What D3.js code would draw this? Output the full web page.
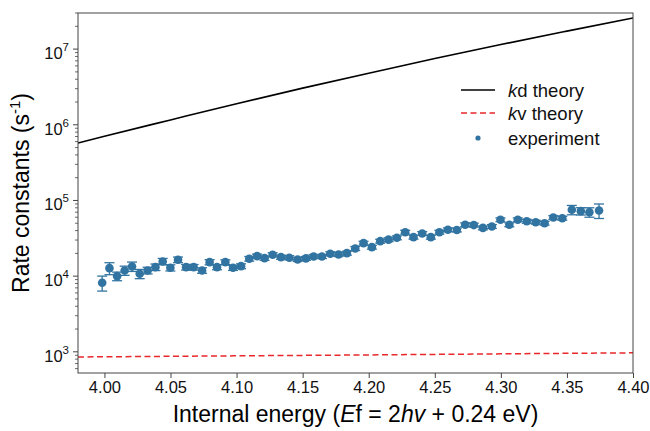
<!DOCTYPE html>
<html>
<head>
<meta charset="utf-8">
<script src="https://cdn.jsdelivr.net/npm/d3@7"></script>
<style>
  body { margin: 0; background: #fff; }
  svg { display: block; font-family: "Liberation Sans", Arial, Helvetica, sans-serif; }
</style>
</head>
<body>
<svg id="chart" width="650" height="431"></svg>
<script>
// Theoretical dissociation rate kd (s^-1) versus internal energy (eV)
const kdEnergy = [3.98, 4.00, 4.05, 4.10, 4.15, 4.20, 4.25, 4.30, 4.35, 4.40];
const kdRate   = [5.73e5, 7.05e5, 1.16e6, 1.90e6, 3.05e6, 4.81e6, 7.50e6, 1.15e7, 1.73e7, 2.58e7];

// Theoretical radiative rate kv (s^-1)
const kvEnergy = [3.98, 4.10, 4.20, 4.30, 4.40];
const kvRate   = [855, 885, 910, 940, 970];

// Measured rate constants with their uncertainties
const expEnergy = [
  3.9983, 4.0038, 4.0096, 4.0153, 4.0209, 4.0267, 4.0327, 4.0386, 4.0441, 4.0499,
  4.0557, 4.0618, 4.0675, 4.0739, 4.0796, 4.0852, 4.0915, 4.0973, 4.1034, 4.1096,
  4.1155, 4.1212, 4.1273, 4.1336, 4.1399, 4.1462, 4.1525, 4.1583, 4.1646, 4.1709,
  4.1772, 4.1835, 4.1898, 4.1961, 4.2024, 4.2087, 4.2150, 4.2213, 4.2276, 4.2339,
  4.2405, 4.2470, 4.2535, 4.2599, 4.2667, 4.2730, 4.2795, 4.2864, 4.2932, 4.2997,
  4.3064, 4.3128, 4.3196, 4.3264, 4.3331, 4.3397, 4.3465, 4.3537, 4.3605, 4.3670,
  4.3743
];
const expRate = [
  8180, 12750, 10000, 11900, 13440, 10760, 11900, 13150, 15630, 12910,
  16480, 13150, 13150, 11900, 15310, 13150, 15310, 12910, 13550, 16980,
  18370, 17290, 19180, 17820, 17500, 16630, 17150, 18200, 18200, 19770,
  19360, 20150, 23220, 27290, 24150, 28980, 30340, 32130, 38100, 32740,
  36640, 32740, 38100, 41010, 40770, 47860, 47290, 43450, 45350, 55620,
  47730, 55620, 53090, 51640, 50100, 59570, 58340, 75290, 72220, 70040,
  73780
];
const expError = [
  1830, 2300, 1300, 1650, 1900, 1500, 1200, 1300, 1500, 1200,
  1400, 1100, 1100, 1000, 1200, 1000, 1100, 1000, 1000, 1200,
  1200, 1100, 1200, 1100, 1100, 1000, 1000, 1100, 1100, 1200,
  1200, 1200, 1400, 1600, 1400, 1700, 1800, 1900, 2200, 1900,
  2100, 1900, 2200, 2400, 2400, 2800, 2800, 2500, 2600, 3200,
  2800, 3200, 3100, 3000, 2900, 3500, 3400, 10600, 8000, 10000,
  16000
];

const xTicks = [4.00, 4.05, 4.10, 4.15, 4.20, 4.25, 4.30, 4.35, 4.40];
const yExponents = [3, 4, 5, 6, 7];
const legendLabels = [["k", "d theory"], ["k", "v theory"], ["", "experiment"]];

const blue = "#3274a1";
const red = "#e8282b";
const spine = "#444";

const svg = d3.select("#chart");
const L = 78, R = 633, T = 13, B = 373;

const x = d3.scaleLinear().domain([3.98, 4.40]).range([L, R]);
const y = d3.scaleLog().domain([525, 3e7]).range([B, T]);

// Clip region for the plotted curves
svg.append("clipPath").attr("id", "plotclip")
  .append("rect").attr("x", L).attr("y", T).attr("width", R - L).attr("height", B - T);

const plot = svg.append("g").attr("clip-path", "url(#plotclip)");

// kd theory curve
const kdLine = d3.line().x(d => x(d[0])).y(d => y(d[1])).curve(d3.curveMonotoneX);
plot.append("path")
  .datum(kdEnergy.map((e, i) => [e, kdRate[i]]))
  .attr("d", kdLine)
  .attr("fill", "none").attr("stroke", "#000").attr("stroke-width", 1.6);

// kv theory curve
plot.append("path")
  .datum(kvEnergy.map((e, i) => [e, kvRate[i]]))
  .attr("d", kdLine)
  .attr("fill", "none").attr("stroke", red).attr("stroke-width", 1.5)
  .attr("stroke-dasharray", "6,3.5");

// Experimental points with error bars
const pts = expEnergy.map((e, i) => ({ e, k: expRate[i], err: expError[i] }));
const eb = plot.append("g").attr("stroke", blue).attr("stroke-width", 1.3);
pts.forEach(p => {
  const cx = x(p.e);
  const y1 = y(p.k + p.err), y0 = y(Math.max(p.k - p.err, 1));
  eb.append("line").attr("x1", cx).attr("x2", cx).attr("y1", y1).attr("y2", y0);
  eb.append("line").attr("x1", cx - 5).attr("x2", cx + 5).attr("y1", y1).attr("y2", y1);
  eb.append("line").attr("x1", cx - 5).attr("x2", cx + 5).attr("y1", y0).attr("y2", y0);
});
plot.append("g").selectAll("circle").data(pts).join("circle")
  .attr("cx", d => x(d.e)).attr("cy", d => y(d.k)).attr("r", 4.3)
  .attr("fill", blue);

// Frame
svg.append("rect").attr("x", L).attr("y", T).attr("width", R - L).attr("height", B - T)
  .attr("fill", "none").attr("stroke", spine).attr("stroke-width", 1);

// X axis
const xAxis = svg.append("g").attr("transform", `translate(0,${B})`)
  .call(d3.axisBottom(x).tickValues(xTicks).tickFormat(d3.format(".2f")).tickSize(5).tickSizeOuter(0));
xAxis.select(".domain").remove();
xAxis.selectAll(".tick line").attr("stroke", spine);
xAxis.selectAll(".tick text").attr("font-size", 16.5).attr("fill", "#111").attr("dy", 0).attr("y", 19.5)
  .attr("font-family", "Liberation Sans, Arial, sans-serif");

// Y axis: minor ticks
const minor = [];
for (let p = 2; p <= 7; p++) for (let m = 2; m <= 9; m++) {
  const v = m * Math.pow(10, p);
  if (v >= 525 && v <= 3e7) minor.push(v);
}
const yg = svg.append("g");
yg.selectAll("line.minor").data(minor).join("line")
  .attr("x1", L - 3).attr("x2", L).attr("y1", d => y(d)).attr("y2", d => y(d))
  .attr("stroke", spine).attr("stroke-width", 0.8);
yg.selectAll("line.major").data(yExponents).join("line")
  .attr("x1", L - 5).attr("x2", L).attr("y1", d => y(Math.pow(10, d))).attr("y2", d => y(Math.pow(10, d)))
  .attr("stroke", spine).attr("stroke-width", 1);
const ylab = yg.selectAll("text.ytick").data(yExponents).join("text")
  .attr("x", L - 9).attr("y", d => y(Math.pow(10, d)) + 10)
  .attr("text-anchor", "end").attr("font-size", 16.5).attr("fill", "#111");
ylab.append("tspan").text("10");
ylab.append("tspan").attr("dy", -8).attr("font-size", 11.5).text(d => d);

// Axis titles
const xt = svg.append("text").attr("x", (L + R) / 2).attr("y", 422)
  .attr("text-anchor", "middle").attr("font-size", 23).attr("fill", "#000");
xt.append("tspan").text("Internal energy (");
xt.append("tspan").attr("font-style", "italic").text("E");
xt.append("tspan").text("f = 2");
xt.append("tspan").attr("font-style", "italic").text("hv");
xt.append("tspan").text(" + 0.24 eV)");

const yt = svg.append("text").attr("transform", `translate(28.5,${(T + B) / 2}) rotate(-90)`)
  .attr("text-anchor", "middle").attr("font-size", 23).attr("fill", "#000");
yt.append("tspan").text("Rate constants (s");
yt.append("tspan").attr("dy", -9).attr("font-size", 15).text("-1");
yt.append("tspan").attr("dy", 9).text(")");

// Legend
const lg = svg.append("g").attr("font-size", 18.5).attr("fill", "#111");
const rows = [90, 113, 138];
lg.append("line").attr("x1", 461).attr("x2", 495).attr("y1", rows[0]).attr("y2", rows[0])
  .attr("stroke", "#000").attr("stroke-width", 1.6);
lg.append("line").attr("x1", 461).attr("x2", 495).attr("y1", rows[1]).attr("y2", rows[1])
  .attr("stroke", red).attr("stroke-width", 1.5).attr("stroke-dasharray", "6,3.5");
lg.append("circle").attr("cx", 478).attr("cy", rows[2]).attr("r", 2.6).attr("fill", blue);
legendLabels.forEach((lab, i) => {
  const t = lg.append("text").attr("x", 508).attr("y", rows[i] + 6.5);
  if (lab[0]) t.append("tspan").attr("font-style", "italic").text(lab[0]);
  t.append("tspan").text(lab[1]);
});
</script>
</body>
</html>
